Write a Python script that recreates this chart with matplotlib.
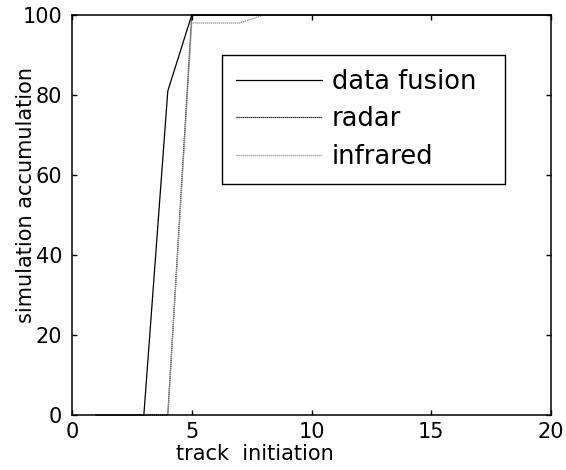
import matplotlib
matplotlib.use("Agg")
import matplotlib.pyplot as plt

plt.rcParams['font.family'] = ['DejaVu Sans']

x_steps = list(range(1, 21))
fusion = [0, 0, 0, 81, 100, 100, 100, 100, 100, 100, 100, 100, 100, 100, 100, 100, 100, 100, 100, 100]
radar = [0, 0, 0, 0, 100, 100, 100, 100, 100, 100, 100, 100, 100, 100, 100, 100, 100, 100, 100, 100]
infrared = [0, 0, 0, 0, 98, 98, 98, 100, 100, 100, 100, 100, 100, 100, 100, 100, 100, 100, 100, 100]
labels = ['data fusion', 'radar', 'infrared']
xticks = [0, 5, 10, 15, 20]
yticks = [0, 20, 40, 60, 80, 100]

fig = plt.figure(figsize=(5.66, 4.70), dpi=100)
ax = fig.add_axes([72/566, 1 - 415/470, (551-72)/566, (415-15)/470])

ax.plot(x_steps, fusion, color='black', lw=0.9, ls='-', label=labels[0], clip_on=False)
ax.plot(x_steps, radar, color='black', lw=0.9, ls=(0, (1, 0.6)), label=labels[1], clip_on=False)
ax.plot(x_steps, infrared, color='#8a8a8a', lw=0.9, ls=(0, (1, 0.6)), label=labels[2], clip_on=False)

ax.set_xlim(0, 20)
ax.set_ylim(0, 100)
ax.set_xticks(xticks)
ax.set_yticks(yticks)
ax.tick_params(direction='in', top=True, right=True, length=3.5, width=1.0,
               labelsize=15, colors='black')
ax.tick_params(axis='x', pad=5)
ax.tick_params(axis='y', pad=7)
for s in ax.spines.values():
    s.set_linewidth(1.1)
    s.set_color('black')

ax.set_xlabel('track  initiation', fontsize=15)
ax.xaxis.set_label_coords(0.382, -0.072)
ax.set_ylabel('simulation accumulation', fontsize=15)
ax.yaxis.set_label_coords(-0.075, 0.55)

leg = ax.legend(loc='upper left',
                bbox_to_anchor=((222-72)/479, (415-55)/400, (505-222)/479, 0.0),
                mode='expand', borderaxespad=0, fontsize=18.5,
                handlelength=3.35, handletextpad=0.4, labelspacing=0.46,
                borderpad=0.53, fancybox=False, framealpha=1)
leg.get_frame().set_edgecolor('black')
leg.get_frame().set_linewidth(1.0)

fig.savefig('out.png', dpi=100)
